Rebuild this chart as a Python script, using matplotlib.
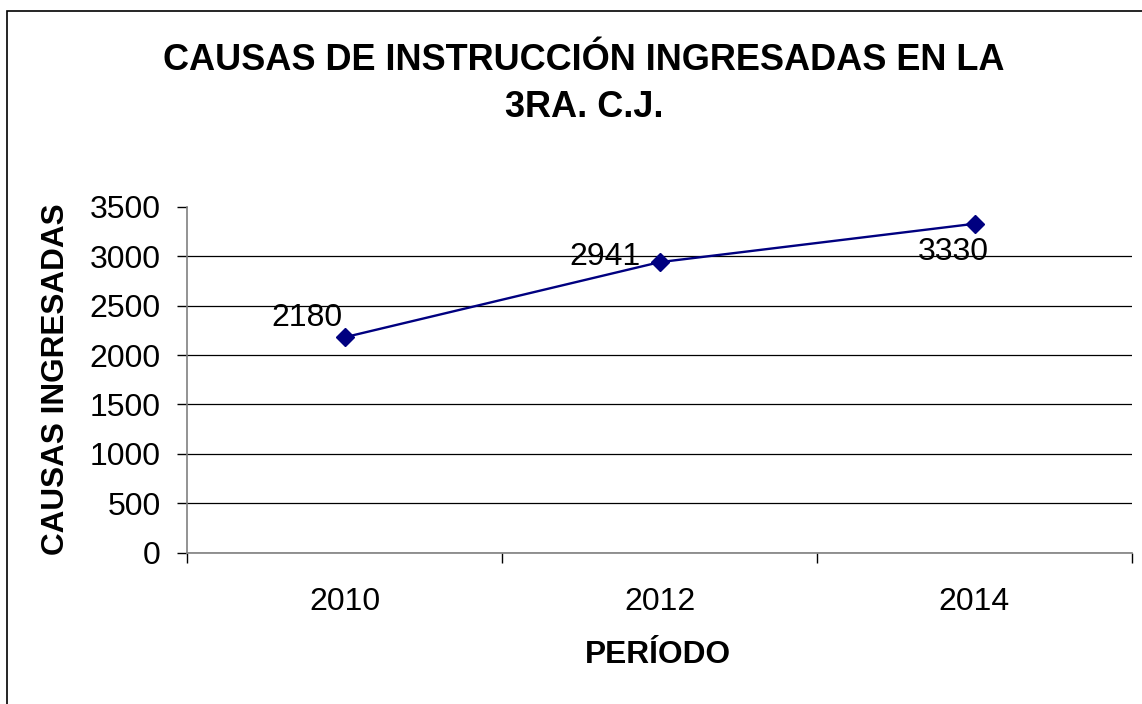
import matplotlib
matplotlib.use("Agg")
import matplotlib.pyplot as plt
from matplotlib.patches import Rectangle

plt.rcParams["font.family"] = ["Liberation Sans", "DejaVu Sans"]

# data
periods = ["2010", "2012", "2014"]
causas = [2180, 2941, 3330]
y_ticks = [0, 500, 1000, 1500, 2000, 2500, 3000, 3500]

title = "CAUSAS DE INSTRUCCIÓN INGRESADAS EN LA\n3RA. C.J."
x_label = "PERÍODO"
y_label = "CAUSAS INGRESADAS"

W, H, DPI = 1142, 704, 100
fig = plt.figure(figsize=(W / DPI, H / DPI), dpi=DPI)
fig.patch.set_facecolor("white")

# outer chart border (open to right and bottom, as in the reference)
fig.patches.append(Rectangle((7 / W, -0.05), 1.2, (H - 11) / H + 0.05,
                             transform=fig.transFigure, fill=False,
                             edgecolor="black", linewidth=1.2))

left, right = 187 / W, 1132 / W
bottom, top = (H - 552.5) / H, (H - 207) / H
ax = fig.add_axes([left, bottom, right - left, top - bottom])

xs = list(range(len(periods)))
ax.plot(xs, causas, color="#000080", linewidth=1.7, marker="D",
        markersize=9.5, markerfacecolor="#000080", markeredgecolor="#000080",
        zorder=3)

# data labels, offsets in points
offsets = [(-27, 14), (-39, 4), (-15, -20)]
for x, v, (dx, dy) in zip(xs, causas, offsets):
    ax.annotate(str(v), (x, v), xytext=(dx, dy), textcoords="offset points",
                ha="center", va="center", fontsize=23, color="black",
                zorder=4)

ax.set_xlim(-0.5, len(periods) - 0.5)
ax.set_ylim(y_ticks[0], y_ticks[-1])
ax.set_yticks(y_ticks)
ax.set_yticklabels([str(t) for t in y_ticks])
ax.set_xticks(xs)
ax.set_xticklabels(periods)
ax.set_xticks([i - 0.5 for i in range(len(periods) + 1)], minor=True)

ax.tick_params(axis="x", which="major", length=0, pad=25, labelsize=23)
ax.tick_params(axis="x", which="minor", length=7, width=1, color="black",
               direction="out")
ax.tick_params(axis="y", length=7, width=1, color="black", pad=12,
               labelsize=23, direction="out")

ax.yaxis.grid(True, color="black", linewidth=0.9)
ax.set_axisbelow(True)
# no gridline on the top value
ax.get_ygridlines()[-1].set_visible(False)

for s in ["top", "right"]:
    ax.spines[s].set_visible(False)
for s in ["left", "bottom"]:
    ax.spines[s].set_color("#808080")
    ax.spines[s].set_linewidth(1.2)

fig.text(584 / W, 1 - 84 / H, title, ha="center", va="center",
         fontsize=26, fontweight="bold", linespacing=1.45)
fig.text(658 / W, 1 - 655 / H, x_label, ha="center", va="center",
         fontsize=22.8, fontweight="bold")
fig.text(56 / W, 1 - 379 / H, y_label, ha="center", va="center",
         rotation=90, fontsize=22.7, fontweight="bold")

fig.savefig("out.png", dpi=DPI)
